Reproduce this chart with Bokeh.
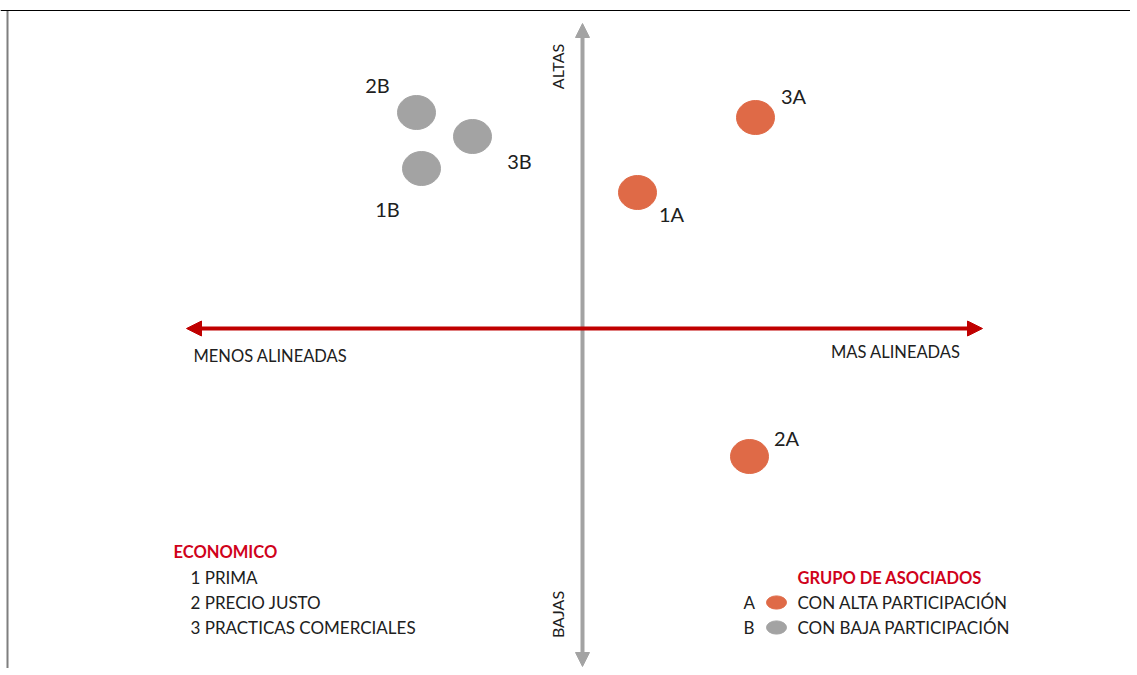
from bokeh.plotting import figure
from bokeh.models import Range1d, Arrow, NormalHead, Span, ColumnDataSource
from bokeh.core.properties import value
from bokeh.embed import file_html
from bokeh.resources import INLINE
import math

# ---- data ----
point_labels = ["2B", "3B", "1B", "1A", "3A", "2A"]
point_groups = ["B", "B", "B", "A", "A", "A"]
alineacion = [-4.15, -2.75, -4.025, 1.375, 4.325, 4.175]      # x: menos -> mas alineadas
participacion = [5.4, 4.8, 4.0, 3.4, 5.275, -3.2]             # y: bajas -> altas

economico_title = "ECONOMICO"
economico_items = ["1  PRIMA", "2  PRECIO JUSTO", "3  PRACTICAS COMERCIALES"]
grupo_title = "GRUPO DE ASOCIADOS"
grupo_keys = ["A", "B"]
grupo_names = ["CON ALTA PARTICIPACIÓN", "CON BAJA PARTICIPACIÓN"]

axis_x_labels = ["MENOS ALINEADAS", "MAS ALINEADAS"]
axis_y_labels = ["ALTAS", "BAJAS"]

# ---- style ----
FONT = "Lato"
ORANGE = "#df6a47"
GRAY = "#a3a3a3"
RED = "#c00000"
TITLE_RED = "#d0021b"
TXT = "#202020"
group_color = {"A": ORANGE, "B": GRAY}

W, H = 1130, 668
X0 = -14.55
Y1 = 8.2
p = figure(width=W, height=H, output_backend="svg", toolbar_location=None,
           x_range=Range1d(X0, X0 + W / 40), y_range=Range1d(Y1 - H / 40, Y1),
           min_border=0, tools="")
p.axis.visible = False
p.grid.visible = False
p.outline_line_color = None
p.background_fill_color = "white"

# frame lines
p.add_layout(Span(location=7.95, dimension="width", line_color="black", line_width=1))
p.segment(x0=[-14.375], y0=[7.95], x1=[-14.375], y1=[-9.0], line_color="#7f7f7f", line_width=2)

# vertical gray arrow
p.add_layout(Arrow(start=NormalHead(size=14, fill_color=GRAY, line_color=GRAY),
                   end=NormalHead(size=14, fill_color=GRAY, line_color=GRAY),
                   x_start=0, y_start=-8.45, x_end=0, y_end=7.625,
                   line_color=GRAY, line_width=4))
# horizontal red arrow
p.add_layout(Arrow(start=NormalHead(size=15, fill_color=RED, line_color=RED),
                   end=NormalHead(size=15, fill_color=RED, line_color=RED),
                   x_start=-9.9, y_start=0, x_end=10.0, y_end=0,
                   line_color=RED, line_width=4))

# points
src = ColumnDataSource(dict(
    x=alineacion, y=participacion, label=point_labels,
    color=[group_color[g] for g in point_groups],
    xo=[-39, 47, -34, 34, 38, 37], yo=[-28, 24, 40, 21, -22, -19],
))
p.ellipse(x="x", y="y", width=0.95, height=0.85, fill_color="color",
          line_color="color", source=src)
p.text(x="x", y="y", text="label", x_offset="xo", y_offset="yo", source=src,
       text_font=value(FONT), text_font_size="20px", text_color=TXT,
       text_align="center", text_baseline="middle")

# axis labels
p.text(x=[-9.725], y=[-0.675], text=[axis_x_labels[0]], text_font=value(FONT),
       text_font_size="16.5px", text_color=TXT, text_align="left", text_baseline="middle")
p.text(x=[9.45], y=[-0.575], text=[axis_x_labels[1]], text_font=value(FONT),
       text_font_size="16.5px", text_color=TXT, text_align="right", text_baseline="middle")
p.text(x=[-0.625, -0.625], y=[6.55, -7.15], text=axis_y_labels, angle=math.pi / 2,
       text_font=value(FONT), text_font_size="16px", text_color=TXT,
       text_align="center", text_baseline="middle")

# left legend
p.text(x=[-10.225], y=[-5.575], text=[economico_title], text_font=value(FONT),
       text_font_size="16.5px", text_font_style="bold", text_color=TITLE_RED,
       text_align="left", text_baseline="middle")
p.text(x=[-9.8] * 3, y=[-6.225, -6.85, -7.475], text=economico_items,
       text_font=value(FONT), text_font_size="17px", text_color=TXT,
       text_align="left", text_baseline="middle")

# right legend
p.text(x=[5.375], y=[-6.225], text=[grupo_title], text_font=value(FONT),
       text_font_size="16.5px", text_font_style="bold", text_color=TITLE_RED,
       text_align="left", text_baseline="middle")
p.text(x=[4.025] * 2, y=[-6.85, -7.475], text=grupo_keys, text_font=value(FONT),
       text_font_size="17px", text_color=TXT, text_align="left", text_baseline="middle")
p.ellipse(x=[4.85] * 2, y=[-6.85, -7.475], width=0.5, height=0.33,
          fill_color=[group_color[k] for k in grupo_keys],
          line_color=[group_color[k] for k in grupo_keys])
p.text(x=[5.375] * 2, y=[-6.85, -7.475], text=grupo_names, text_font=value(FONT),
       text_font_size="17px", text_color=TXT, text_align="left", text_baseline="middle")

open("out.html", "w").write(file_html(p, INLINE))
